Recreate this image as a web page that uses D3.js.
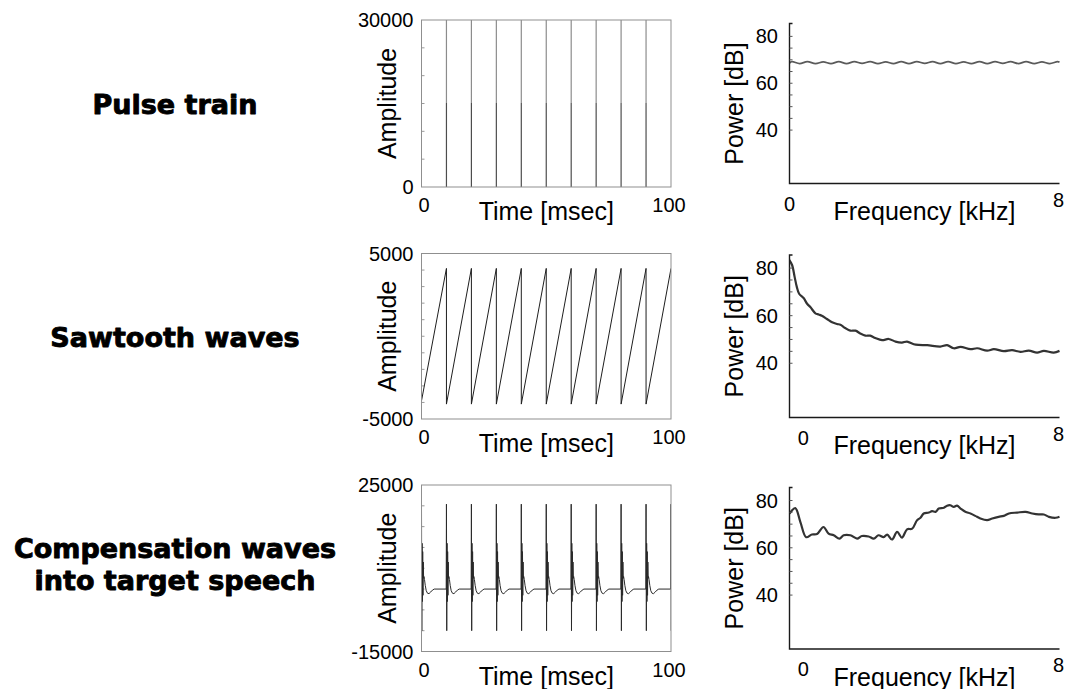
<!DOCTYPE html>
<html>
<head>
<meta charset="utf-8">
<script src="https://cdn.jsdelivr.net/npm/d3@7"></script>
<style>
  html, body { margin: 0; padding: 0; background: #fff; }
  svg { display: block; }
</style>
</head>
<body>
<svg id="fig" width="1067" height="689"></svg>
<script>
// ---------------- data ----------------
const rowLabels = [["Pulse train"], ["Sawtooth waves"], ["Compensation waves", "into target speech"]];

const timeTicks = [0, 100];
const ampDomains = [[0, 30000], [-5000, 5000], [-15000, 25000]];
const ampMinorStep = [5000, 1000, 5000];
const freqTicks = [0, 8];
const powerTicks = [40, 60, 80];
const powerMinorStep = 5;

// pulse train: one impulse every 10 ms
const pulseTimes = [10, 20, 30, 40, 50, 60, 70, 80, 90];
const pulseAmp = 30000;

// sawtooth: ramp vertices (ms, amplitude)
const sawTime = [0, 10, 10, 20, 20, 30, 30, 40, 40, 50, 50, 60, 60, 70, 70, 80, 80, 90, 90, 100];
const sawAmp  = [-3900, 4100, -4100, 4100, -4100, 4100, -4100, 4100, -4100, 4100,
                 -4100, 4100, -4100, 4100, -4100, 4100, -4100, 4100, -4100, 4100];

// compensation wave: pulse instants and the shape that follows each pulse
const compPulseTimes = [0, 10, 20, 30, 40, 50, 60, 70, 80, 90, 100];
const compShapeTime = [-0.1, 0, 0.12, 0.24, 0.36, 0.48, 0.6, 0.72, 0.85, 1.0, 1.2, 1.5, 1.9, 2.4, 3.0, 3.7, 4.4, 5.1];
const compShapeAmp  = [0, 20400, -10000, 11000, -3000, 9000, -1500, 6500, 2600, 3000, 2300, 900, -400, -1000, -1100, -700, -250, 0];

// power spectra (kHz, dB)
const pulseFreq = [0, 0.07, 0.30, 0.53, 0.77, 1.00, 1.23, 1.46, 1.69, 1.92, 2.15, 2.39, 2.62, 2.85, 3.08, 3.31,
                   3.54, 3.77, 4.01, 4.24, 4.47, 4.70, 4.93, 5.16, 5.39, 5.63, 5.86, 6.09, 6.32, 6.55, 6.78, 7.01,
                   7.25, 7.48, 7.71, 7.94, 8.0];
const pulsePower = [68.6, 69.2, 68.4, 69.2, 68.4, 69.1, 68.4, 69.2, 68.4, 69.2, 68.5, 69.2, 68.4, 69.1, 68.4, 69.2,
                    68.4, 69.2, 68.5, 69.2, 68.4, 69.2, 68.4, 69.1, 68.4, 69.2, 68.4, 69.2, 68.5, 69.2, 68.4, 69.2,
                    68.4, 69.1, 68.4, 69.2, 69.0];

const sawFreq = [-0.44, -0.35, -0.27, -0.20, -0.13, 0.01, 0.12, 0.22, 0.38, 0.48, 0.58, 0.74, 0.90, 1.05, 1.16,
                 1.31, 1.47, 1.63, 1.78, 1.94, 2.09, 2.25, 2.46, 2.67, 2.88, 3.08, 3.24, 3.45, 3.60, 3.87,
                 4.28, 4.49, 4.70, 4.91, 5.22, 5.43, 5.74, 5.95, 6.26, 6.52, 6.78, 7.04, 7.30, 7.51, 7.82, 8.0];
const sawPower = [83.4, 81.3, 76.3, 72.0, 69.2, 67.4, 65.0, 63.6, 61.0, 60.5, 60.0, 58.6, 57.2, 56.5, 56.2,
                  54.8, 53.7, 53.7, 52.5, 51.6, 51.6, 50.6, 49.7, 50.2, 49.1, 48.7, 49.1, 48.0, 47.7, 47.6,
                  47.0, 47.6, 46.3, 46.9, 45.9, 46.3, 45.3, 45.9, 45.1, 45.5, 44.8, 45.3, 44.5, 45.2, 44.5, 45.2];

const compFreq = [-0.43, -0.25, -0.09, 0.09, 0.27, 0.43, 0.63, 0.79, 0.95, 1.13, 1.26, 1.47, 1.68, 1.83, 2.04,
                  2.20, 2.35, 2.51, 2.62, 2.77, 2.93, 3.08, 3.24, 3.40, 3.55, 3.66, 3.76, 3.92, 4.02, 4.13,
                  4.23, 4.39, 4.49, 4.59, 4.70, 4.80, 4.91, 5.06, 5.22, 5.37, 5.53, 5.74, 5.90, 6.10, 6.26,
                  6.42, 6.68, 6.94, 7.15, 7.35, 7.51, 7.67, 7.88, 8.0];
const compPower = [74.4, 76.8, 70.9, 64.5, 65.6, 65.8, 68.8, 66.0, 65.3, 63.9, 65.3, 65.3, 63.9, 65.0, 64.8,
                   63.9, 65.3, 64.5, 65.6, 63.5, 66.7, 64.3, 67.8, 68.1, 71.6, 72.7, 74.5, 74.9, 75.5, 75.2,
                   76.6, 76.9, 77.8, 78.0, 77.3, 77.8, 76.6, 75.2, 74.5, 73.5, 72.4, 71.7, 72.4, 73.1, 73.5,
                   74.5, 74.9, 75.2, 74.5, 74.1, 74.1, 73.1, 72.7, 73.1];

// ---------------- layout ----------------
const svg = d3.select("#fig");
const defs = svg.append("defs");
const axisFont = "'Liberation Sans', Arial, Helvetica, sans-serif";
const labelFont = "'DejaVu Sans', Verdana, sans-serif";

const waveX = d3.scaleLinear().domain([0, 100]).range([421.5, 671]);
const waveRows = [[187, 20], [419, 253.5], [651.5, 485]];       // [bottom, top]
const specRows = [[183.5, 23.5], [417.5, 255], [649, 487.5]];   // [bottom, top]
const specDomains = [[0, 8], [-0.43, 8], [-0.43, 8]];
const powerDomain = [17.2, 85.5];
const labelBaselines = [114, 347, 558];

// ---------------- row titles ----------------
rowLabels.forEach((lines, i) => {
  lines.forEach((s, k) => {
    svg.append("text")
      .attr("x", 175).attr("y", labelBaselines[i] + k * 32)
      .attr("text-anchor", "middle")
      .style("font-family", labelFont).style("font-weight", "bold").style("font-size", "27px")
      .attr("fill", "#000").attr("stroke", "#000").attr("stroke-width", 0.9)
      .attr("stroke-linejoin", "round")
      .text(s);
  });
});

// ---------------- waveform panels ----------------
function wavePanel(i) {
  const [yb, yt] = waveRows[i];
  const y = d3.scaleLinear().domain(ampDomains[i]).range([yb, yt]);
  const [x0, x1] = waveX.range();
  const g = svg.append("g");

  const clipId = "wclip" + i;
  defs.append("clipPath").attr("id", clipId).append("rect")
    .attr("x", x0).attr("y", yt).attr("width", x1 - x0).attr("height", yb - yt);

  const [lo, hi] = ampDomains[i];
  g.selectAll("line.minor").data(d3.range(lo + ampMinorStep[i], hi, ampMinorStep[i]))
    .join("line").attr("class", "minor")
    .attr("x1", x0).attr("x2", x0 + 3)
    .attr("y1", d => y(d)).attr("y2", d => y(d))
    .attr("stroke", "#9a9a9a").attr("stroke-width", 1);

  // amplitude end labels
  g.selectAll("text.amp").data(ampDomains[i]).join("text").attr("class", "amp")
    .attr("x", 413.5).attr("y", d => y(d)).attr("dy", "0.35em")
    .attr("text-anchor", "end")
    .style("font-family", axisFont).style("font-size", "20px")
    .text(d => d);

  // time end labels
  g.selectAll("text.time").data(timeTicks).join("text").attr("class", "time")
    .attr("x", d => waveX(d) + (d === 0 ? 2.5 : -2))
    .attr("y", yb + 25)
    .attr("text-anchor", "middle")
    .style("font-family", axisFont).style("font-size", "20px")
    .text(d => d);

  g.append("text")
    .attr("x", (x0 + x1) / 2).attr("y", yb + 33)
    .attr("text-anchor", "middle")
    .style("font-family", axisFont).style("font-size", "25px")
    .text("Time [msec]");

  g.append("text")
    .attr("transform", `translate(396,${(yb + yt) / 2}) rotate(-90)`)
    .attr("text-anchor", "middle")
    .style("font-family", axisFont).style("font-size", "25px")
    .text("Amplitude");

  const plot = g.append("g").attr("clip-path", `url(#${clipId})`);
  g.append("rect")
    .attr("x", x0).attr("y", yt).attr("width", x1 - x0).attr("height", yb - yt)
    .attr("fill", "none").attr("stroke", "#8f8f8f").attr("stroke-width", 1);
  return { plot, y };
}

// pulse train
{
  const { plot, y } = wavePanel(0);
  const grad = defs.append("linearGradient").attr("id", "pulseShade")
    .attr("gradientUnits", "userSpaceOnUse")
    .attr("x1", 0).attr("x2", 0).attr("y1", y(pulseAmp)).attr("y2", y(0));
  [[0, "#8c8c8c"], [0.5, "#8c8c8c"], [0.5, "#4d4d4d"], [1, "#4d4d4d"]].forEach(([o, c]) =>
    grad.append("stop").attr("offset", o).attr("stop-color", c));
  plot.selectAll("line.pulse").data(pulseTimes).join("line").attr("class", "pulse")
    .attr("x1", d => waveX(d)).attr("x2", d => waveX(d))
    .attr("y1", y(0)).attr("y2", y(pulseAmp))
    .attr("stroke", "url(#pulseShade)").attr("stroke-width", 1.2);
}

// sawtooth
{
  const { plot, y } = wavePanel(1);
  const pts = sawTime.map((t, k) => [t, sawAmp[k]]);
  plot.append("path")
    .attr("d", d3.line().x(d => waveX(d[0])).y(d => y(d[1]))(pts))
    .attr("fill", "none").attr("stroke", "#1e1e1e").attr("stroke-width", 1);
}

// compensation wave
{
  const { plot, y } = wavePanel(2);
  const pts = [];
  compPulseTimes.forEach(p => compShapeTime.forEach((t, k) => pts.push([p + t, compShapeAmp[k]])));
  plot.append("path")
    .attr("d", d3.line().x(d => waveX(d[0])).y(d => y(d[1]))(pts))
    .attr("fill", "none").attr("stroke", "#2a2a2a").attr("stroke-width", 1);
}

// ---------------- spectrum panels ----------------
function specPanel(i, freq, power, color, width) {
  const [yb, yt] = specRows[i];
  const x = d3.scaleLinear().domain(specDomains[i]).range([789.5, 1059.5]);
  const y = d3.scaleLinear().domain(powerDomain).range([yb, yt]);
  const g = svg.append("g");
  const [x0, x1] = x.range();

  const clipId = "sclip" + i;
  defs.append("clipPath").attr("id", clipId).append("rect")
    .attr("x", x0).attr("y", yt - 2).attr("width", x1 - x0 + 2).attr("height", yb - yt + 2);

  const pts = freq.map((f, k) => [f, power[k]]);
  g.append("g").attr("clip-path", `url(#${clipId})`).append("path")
    .attr("d", d3.line().curve(d3.curveCatmullRom.alpha(0.5)).x(d => x(d[0])).y(d => y(d[1]))(pts))
    .attr("fill", "none").attr("stroke", color).attr("stroke-width", width)
    .attr("stroke-linejoin", "round");

  // axes
  g.append("path")
    .attr("d", `M${x0 + 3},${yt}H${x0}V${yb}H${x1}`)
    .attr("fill", "none").attr("stroke", "#1a1a1a").attr("stroke-width", 1.4);
  g.selectAll("line.minor").data(d3.range(powerTicks[0], powerTicks[powerTicks.length - 1] + 1, powerMinorStep))
    .join("line").attr("class", "minor")
    .attr("x1", x0).attr("x2", x0 + 3)
    .attr("y1", d => y(d)).attr("y2", d => y(d))
    .attr("stroke", "#555").attr("stroke-width", 1);

  g.selectAll("text.pow").data(powerTicks).join("text").attr("class", "pow")
    .attr("x", 778).attr("y", d => y(d)).attr("dy", "0.35em")
    .attr("text-anchor", "end")
    .style("font-family", axisFont).style("font-size", "20px")
    .text(d => d);

  g.selectAll("text.freq").data(freqTicks).join("text").attr("class", "freq")
    .attr("x", d => x(d) + (d === 0 ? 0 : -1))
    .attr("y", d => yb + (d === 0 ? 27 : 23))
    .attr("text-anchor", "middle")
    .style("font-family", axisFont).style("font-size", "20px")
    .text(d => d);

  g.append("text")
    .attr("x", (x0 + x1) / 2).attr("y", yb + 36.5)
    .attr("text-anchor", "middle")
    .style("font-family", axisFont).style("font-size", "25px")
    .text("Frequency [kHz]");

  g.append("text")
    .attr("transform", `translate(743,${(yb + yt) / 2}) rotate(-90)`)
    .attr("text-anchor", "middle")
    .style("font-family", axisFont).style("font-size", "25px")
    .text("Power [dB]");
}

specPanel(0, pulseFreq, pulsePower, "#5a5a5a", 1.8);
specPanel(1, sawFreq, sawPower, "#333", 2.2);
specPanel(2, compFreq, compPower, "#333", 2.2);
</script>
</body>
</html>
